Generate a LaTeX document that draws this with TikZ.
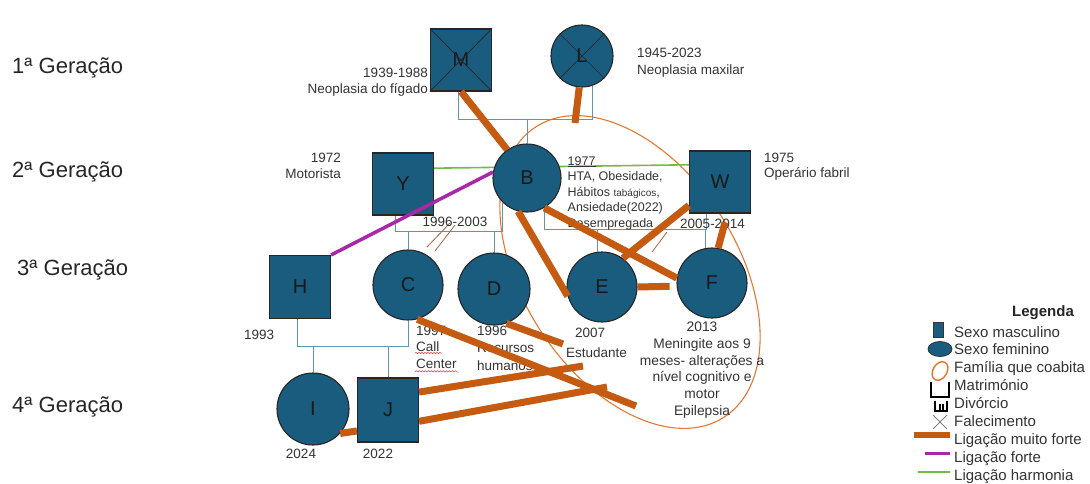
\documentclass[tikz,border=0pt]{standalone}
\usepackage{fontspec}
\setmainfont{Liberation Sans}
\usetikzlibrary{calc}
\usetikzlibrary{backgrounds}
\usetikzlibrary{decorations.pathmorphing}

\definecolor{genoblue}{RGB}{26,92,126}
\definecolor{linkorange}{RGB}{197,90,17}
\definecolor{famblue}{RGB}{100,148,172}
\definecolor{linkpurple}{RGB}{168,40,168}
\definecolor{linkgreen}{RGB}{112,190,64}
\definecolor{ringorange}{RGB}{228,120,50}
\definecolor{divbrown}{RGB}{170,95,70}

\begin{document}
\begin{tikzpicture}[x=1pt,y=-1pt,
    male/.style={draw=black!85,line width=1.1pt,fill=genoblue,minimum width=61pt,minimum height=62pt,inner sep=0pt,text=black!90,font=\fontsize{20}{20}\selectfont},
    female/.style={circle,draw=black!85,line width=1.1pt,fill=genoblue,minimum size=70pt,inner sep=0pt,text=black!90,font=\fontsize{20}{20}\selectfont},
    info/.style={inner sep=0pt,text=black!80,font=\fontsize{13.5}{16.5}\selectfont},
    famline/.style={draw=famblue,line width=1pt},
    veryforte/.style={draw=linkorange,line width=7pt},
    forte/.style={draw=linkpurple,line width=3.5pt},
    harmonia/.style={draw=linkgreen,line width=1.6pt},
    ring/.style={draw=ringorange,line width=1.1pt},
    divmark/.style={draw=divbrown,line width=0.8pt},
    geracao/.style={anchor=base west,inner sep=0pt,text=black!85,font=\fontsize{22}{22}\selectfont},
    legtext/.style={anchor=base west,inner sep=0pt,text=black!80,font=\fontsize{15}{15}\selectfont}]

  \useasboundingbox (0,0) rectangle (1090,483);

  % generations
  \foreach \g/\x/\y in {1/12/73, 2/12/177, 3/17/275, 4/12/412}
  {
    \node(ger\g) at (\x,\y) [geracao] {\g ª Geração};
  }

  % people
  \node(M) at (461,60) [male] {M};
  \node(L) at (582,56) [female,minimum size=62pt] {L};
  \node(Y) at (403,184) [male] {Y};
  \node(B) at (527,178) [female,minimum size=68pt] {B};
  \node(W) at (720,182) [male] {W};
  \node(H) at (300,287) [male,minimum height=63pt] {H};
  \node(C) at (408,285) [female] {C};
  \node(D) at (494,289) [female,minimum size=72pt] {D};
  \node(E) at (602,287) [female] {E};
  \node(F) at (712,283) [female] {F};
  \node(I) at (313,409) [female,minimum size=72pt] {I};
  \node(J) at (388,410) [male,minimum height=64pt] {J};

  % deceased
  \draw[black!85,line width=0.7pt] (M.north west) -- (M.south east) (M.north east) -- (M.south west);
  \draw[black!85,line width=0.7pt] (L.45) -- (L.225) (L.135) -- (L.315);

  \begin{scope}[on background layer]
    \draw[ring, rotate around={-57:(630,272)}] (630,272) ellipse [x radius=173, y radius=107];
    \draw[harmonia] (Y.27) -- (W.151);
  \end{scope}

  % family lines
  \coordinate(barML) at (0,119);
  \draw[famline] (M.265) -- (M.265 |- barML) -- (L.290 |- barML) -- (L.290);
  \draw[famline] (B.north |- barML) -- (B.north);
  \coordinate(barYB) at (0,231);
  \draw[famline] (Y.257) -- (Y.257 |- barYB) -- (B.225 |- barYB) -- (B.225);
  \foreach \k in {C,D}
  {
    \draw[famline] (\k.north |- barYB) -- (\k.north);
  }
  \coordinate(barBW) at (0,229);
  \draw[famline] (B.300) -- (B.300 |- barBW) -- (W.247 |- barBW) -- (W.247);
  \draw[famline] (E.98 |- barBW) -- (E.98);
  \draw[famline] (F.100 |- barBW) -- (F.100);
  \coordinate(barHC) at (0,346);
  \draw[famline] (H.265) -- (H.265 |- barHC) -- (C.south |- barHC) -- (C.south);
  \foreach \k in {I,J}
  {
    \draw[famline] (\k.north |- barHC) -- (\k.north);
  }

  % divorces
  \draw[divmark] (427,247) -- (450,223) (435,251) -- (455,225);
  \draw[divmark] (652,252) -- (667,232);

  % texts (base = last line)
  \node(infoM) at (428,93.5) [info,anchor=base east,align=right] {1939-1988\\Neoplasia do fígado};
  \node(infoL) at (637,74.3) [info,anchor=base west,align=left,font=\fontsize{13.5}{17.3}\selectfont] {1945-2023\\Neoplasia maxilar};
  \node(infoY) at (341,178.2) [info,anchor=base east,align=right,font=\fontsize{13.5}{15.7}\selectfont] {1972\\Motorista};
  \node(infoW) at (764,177.5) [info,anchor=base west,align=left,font=\fontsize{13.5}{15}\selectfont] {1975\\Operário fabril};
  \node(infoB) at (567.5,227.4) [info,anchor=base west,align=left,font=\fontsize{12.5}{15.6}\selectfont] {\underline{1977}\\HTA, Obesidade,\\Hábitos {\fontsize{10}{12}\selectfont tabágicos},\\Ansiedade(2022)\\Desempregada};
  \node(datYB) at (455,226) [info,anchor=base] {1996-2003};
  \node(datBW) at (712.5,228) [info,anchor=base] {2005-2014};
  \node(infoH) at (244,339) [info,anchor=base west] {1993};
  \node(infoC) at (416,368) [info,anchor=base west,align=left] {1997\\Call\\Center};
  \node(infoD) at (477,370) [info,anchor=base west,align=left,font=\fontsize{13.5}{17.5}\selectfont] {1996\\Recursos\\humanos};
  \node(infoEa) at (575,337.5) [info,anchor=base west] {2007};
  \node(infoEb) at (566,357) [info,anchor=base west] {Estudante};
  \node(infoF) at (702,415.5) [info,anchor=base,align=center,font=\fontsize{13.8}{16.8}\selectfont] {2013\\Meningite aos 9\\meses- alterações a\\nível cognitivo e\\motor\\Epilepsia};
  \node(infoI) at (301,458) [info,anchor=base] {2024};
  \node(infoJ) at (378,458) [info,anchor=base] {2022};
  \draw[red!80,line width=0.5pt,decorate,decoration={snake,amplitude=0.7pt,segment length=3pt}]
    (415,353) -- (441,353) (415,372) -- (458,372);

  % links
  \draw[forte] (B.170) -- (H.north east);
  \draw[veryforte] (M.south) -- (B.125);
  \coordinate(endL) at (575,123);
  \draw[veryforte] (L.265) -- (endL);
  \draw[veryforte] (B.255) -- (E.195);
  \draw[veryforte] (B.300) -- (F.172);
  \draw[veryforte] (W.217) -- (E.54);
  \draw[veryforte,shorten <=9pt] (W.283) -- (F.80);
  \draw[veryforte,shorten >=7pt] (E.east) -- (F.185);
  \coordinate(endC) at (636,406);
  \draw[veryforte] (C.285) -- (endC);
  \coordinate(endD) at (563,344);
  \draw[veryforte] (D.290) -- (endD);
  \coordinate(endJa) at (583,366);
  \draw[veryforte] (J.30) -- (endJa);
  \coordinate(endJb) at (607,387);
  \draw[veryforte] (J.340) -- (endJb);
  \draw[veryforte] (I.318) -- (J.214);

  % legend
  \node(legtitle) at (1043,316.5) [anchor=base,inner sep=0pt,text=black!85,font=\fontsize{15}{15}\selectfont\bfseries] {Legenda};
  \foreach \t [count=\i] in {Sexo masculino, Sexo feminino, Família que coabita, Matrimónio, Divórcio, Falecimento, Ligação muito forte, Ligação forte, Ligação harmonia}
  {
    \node(leg\i) at (954,{319.1+17.9*\i}) [legtext] {\t};
  }
  \node(icoM) at (938,330) [draw=black!80,line width=0.8pt,fill=genoblue,minimum width=10pt,minimum height=15pt,inner sep=0pt] {};
  \draw[draw=black!80,line width=0.8pt,fill=genoblue] (940,349) ellipse [x radius=12, y radius=7.5];
  \draw[ring,line width=1.5pt,rotate around={60:(940,371)}] (940,371) ellipse [x radius=10, y radius=7];
  \draw[line width=2.2pt] (931,382) -- (931,397) -- (949,397) -- (949,382);
  \draw[line width=1.6pt] (935,401) -- (935,411) -- (947,411) -- (947,401) (940,404) -- (940,411) (943,404) -- (943,411);
  \draw[gray,line width=0.8pt] (933,415) -- (947,429) (947,415) -- (933,429);
  \draw[veryforte,line width=6pt] (914,434.5) -- (950,434.5);
  \draw[forte,line width=3pt] (925,453) -- (950,453);
  \draw[harmonia,line width=2pt] (918,472) -- (950,472);
\end{tikzpicture}
\end{document}
